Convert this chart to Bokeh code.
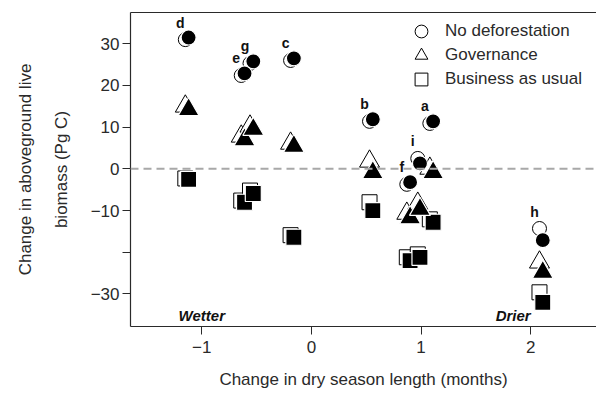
from bokeh.plotting import figure
from bokeh.models import (ColumnDataSource, LinearAxis, FixedTicker, Span, Label,
                          Legend, LegendItem, Range1d)
from bokeh.core.properties import value
from bokeh.embed import file_html
from bokeh.resources import INLINE

# Climate models (labelled a-i) and their change in dry season length (months)
models = ["a", "b", "c", "d", "e", "f", "g", "h", "i"]
dsl_open = [1.08, 0.53, -0.19, -1.15, -0.64, 0.87, -0.56, 2.08, 0.97]
dsl_filled = [1.11, 0.56, -0.16, -1.12, -0.61, 0.90, -0.53, 2.11, 0.99]

# Change in aboveground live biomass (Pg C) per land-use scenario
no_defor_open = [10.9, 11.4, 26.0, 31.0, 22.4, -3.7, 25.3, -14.3, 2.5]
no_defor_filled = [11.4, 11.9, 26.5, 31.5, 22.9, -3.2, 25.8, -17.1, 1.3]
governance_open = [0.1, 1.8, 6.1, 15.0, 7.8, -10.7, 10.2, -22.4, -8.3]
governance_filled = [-0.9, -0.9, 5.4, 14.2, 7.0, -11.7, 9.5, -24.8, -9.7]
bau_open = [-12.1, -8.0, -15.9, -2.3, -7.6, -21.2, -5.2, -29.6, -20.5]
bau_filled = [-12.8, -10.0, -16.4, -2.5, -8.0, -22.0, -5.9, -32.0, -21.2]

y_ticks = [-30, -20, -10, 0, 10, 20, 30]
y_tick_labels = {-30: "\u221230", -20: "", -10: "\u221210", 0: "0", 10: "10", 20: "20", 30: "30"}
x_ticks = [-1, 0, 1, 2]
x_tick_labels = {-1: "\u22121", 0: "0", 1: "1", 2: "2"}

FONT = "Liberation Sans"
INK = "#2a2a2a"

p = figure(width=596, height=393, output_backend="svg", toolbar_location=None,
           x_range=Range1d(-1.65, 2.60), y_range=Range1d(-37.8, 37.5),
           min_border_left=130, min_border_right=0, min_border_top=12,
           min_border_bottom=67, x_axis_location="below")
p.outline_line_color = None
p.xgrid.visible = False
p.ygrid.visible = False
p.background_fill_color = "white"
p.border_fill_color = "white"

# zero reference line
p.add_layout(Span(location=0, dimension="width", line_color="#a8a8a8",
                  line_width=2, line_dash="8 5"))

src = ColumnDataSource(dict(
    model=models, xo=dsl_open, xf=dsl_filled,
    ndo=no_defor_open, ndf=no_defor_filled,
    go=governance_open, gf=governance_filled,
    bo=bau_open, bf=bau_filled,
))

open_style = dict(fill_color="white", line_color="black", line_width=1)
filled_style = dict(fill_color="black", line_color="white", line_width=1.2)

r_sq_o = p.scatter("xo", "bo", source=src, marker="square", size=15, **open_style)
r_tr_o = p.scatter("xo", "go", source=src, marker="triangle", size=20, **open_style)
r_ci_o = p.scatter("xo", "ndo", source=src, marker="circle", size=14, **open_style)
p.scatter("xf", "bf", source=src, marker="square", size=16, **filled_style)
p.scatter("xf", "gf", source=src, marker="triangle", size=21, **filled_style)
p.scatter("xf", "ndf", source=src, marker="circle", size=15, **filled_style)

# model letters above the no-deforestation points
p.text("xo", "ndo", text="model", source=src, x_offset=-5, y_offset=-17,
       text_align="center", text_baseline="middle", text_font=value(FONT),
       text_font_style="bold", text_font_size="14px", text_color="#111")

for txt, xv, align in (("Wetter", -1.0, "center"), ("Drier", 2.0, "right")):
    p.add_layout(Label(x=xv, y=-35.2, text=txt, text_align=align,
                       text_baseline="middle", text_font=FONT,
                       text_font_style="bold italic", text_font_size="15px",
                       text_color="#111"))

# axes
xa = p.xaxis[0]
xa.ticker = FixedTicker(ticks=x_ticks)
xa.major_label_overrides = x_tick_labels
xa.axis_label = "Change in dry season length (months)"
ya = p.yaxis[0]
ya.ticker = FixedTicker(ticks=y_ticks)
ya.major_label_overrides = y_tick_labels
ya.axis_label = "biomass (Pg C)"
ya.axis_label_standoff = 17
xa.axis_label_standoff = 14
xa.major_label_standoff = 6
ya.major_label_standoff = 3
for ax in (xa, ya):
    ax.minor_tick_line_color = None
    ax.major_tick_in = 0
    ax.major_tick_out = 8
    ax.axis_line_color = INK
    ax.major_tick_line_color = INK
    ax.axis_line_width = 1.2
    ax.major_label_text_font = FONT
    ax.major_label_text_font_size = "17px"
    ax.major_label_text_color = INK
    ax.axis_label_text_font = FONT
    ax.axis_label_text_font_size = "17px"
    ax.axis_label_text_font_style = "normal"
    ax.axis_label_text_color = INK

# first line of the y title, carried by a bare outer axis so both lines stay centred
outer = LinearAxis(ticker=FixedTicker(ticks=[]), major_label_text_font_size="0px",
                   major_tick_out=0, major_tick_in=0, major_label_standoff=0,
                   minor_tick_line_color=None, axis_line_color=None,
                   axis_label="Change in aboveground live", axis_label_standoff=14,
                   axis_label_text_font=FONT, axis_label_text_font_size="17px",
                   axis_label_text_font_style="normal", axis_label_text_color=INK)
p.add_layout(outer, "left")

top = LinearAxis(ticker=FixedTicker(ticks=[]), major_label_text_font_size="0px",
                 major_tick_out=0, major_tick_in=0, major_label_standoff=0,
                 minor_tick_line_color=None, axis_line_color=INK, axis_line_width=1.2)
p.add_layout(top, "above")

# legend: one entry per row so the symbols can be larger than the row pitch
for label, rend, ypos in (("No deforestation", r_ci_o, 279),
                          ("Governance", r_tr_o, 255),
                          ("Business as usual", r_sq_o, 231)):
    lg = Legend(items=[LegendItem(label=label, renderers=[rend])],
                location=(275, ypos), glyph_width=32, glyph_height=32,
                label_standoff=8, padding=0, margin=0, spacing=0,
                border_line_color=None, background_fill_alpha=0,
                label_text_font=FONT, label_text_font_size="17px",
                label_text_color=INK, label_text_baseline="middle")
    p.add_layout(lg)

open("out.html", "w").write(file_html(p, INLINE))
